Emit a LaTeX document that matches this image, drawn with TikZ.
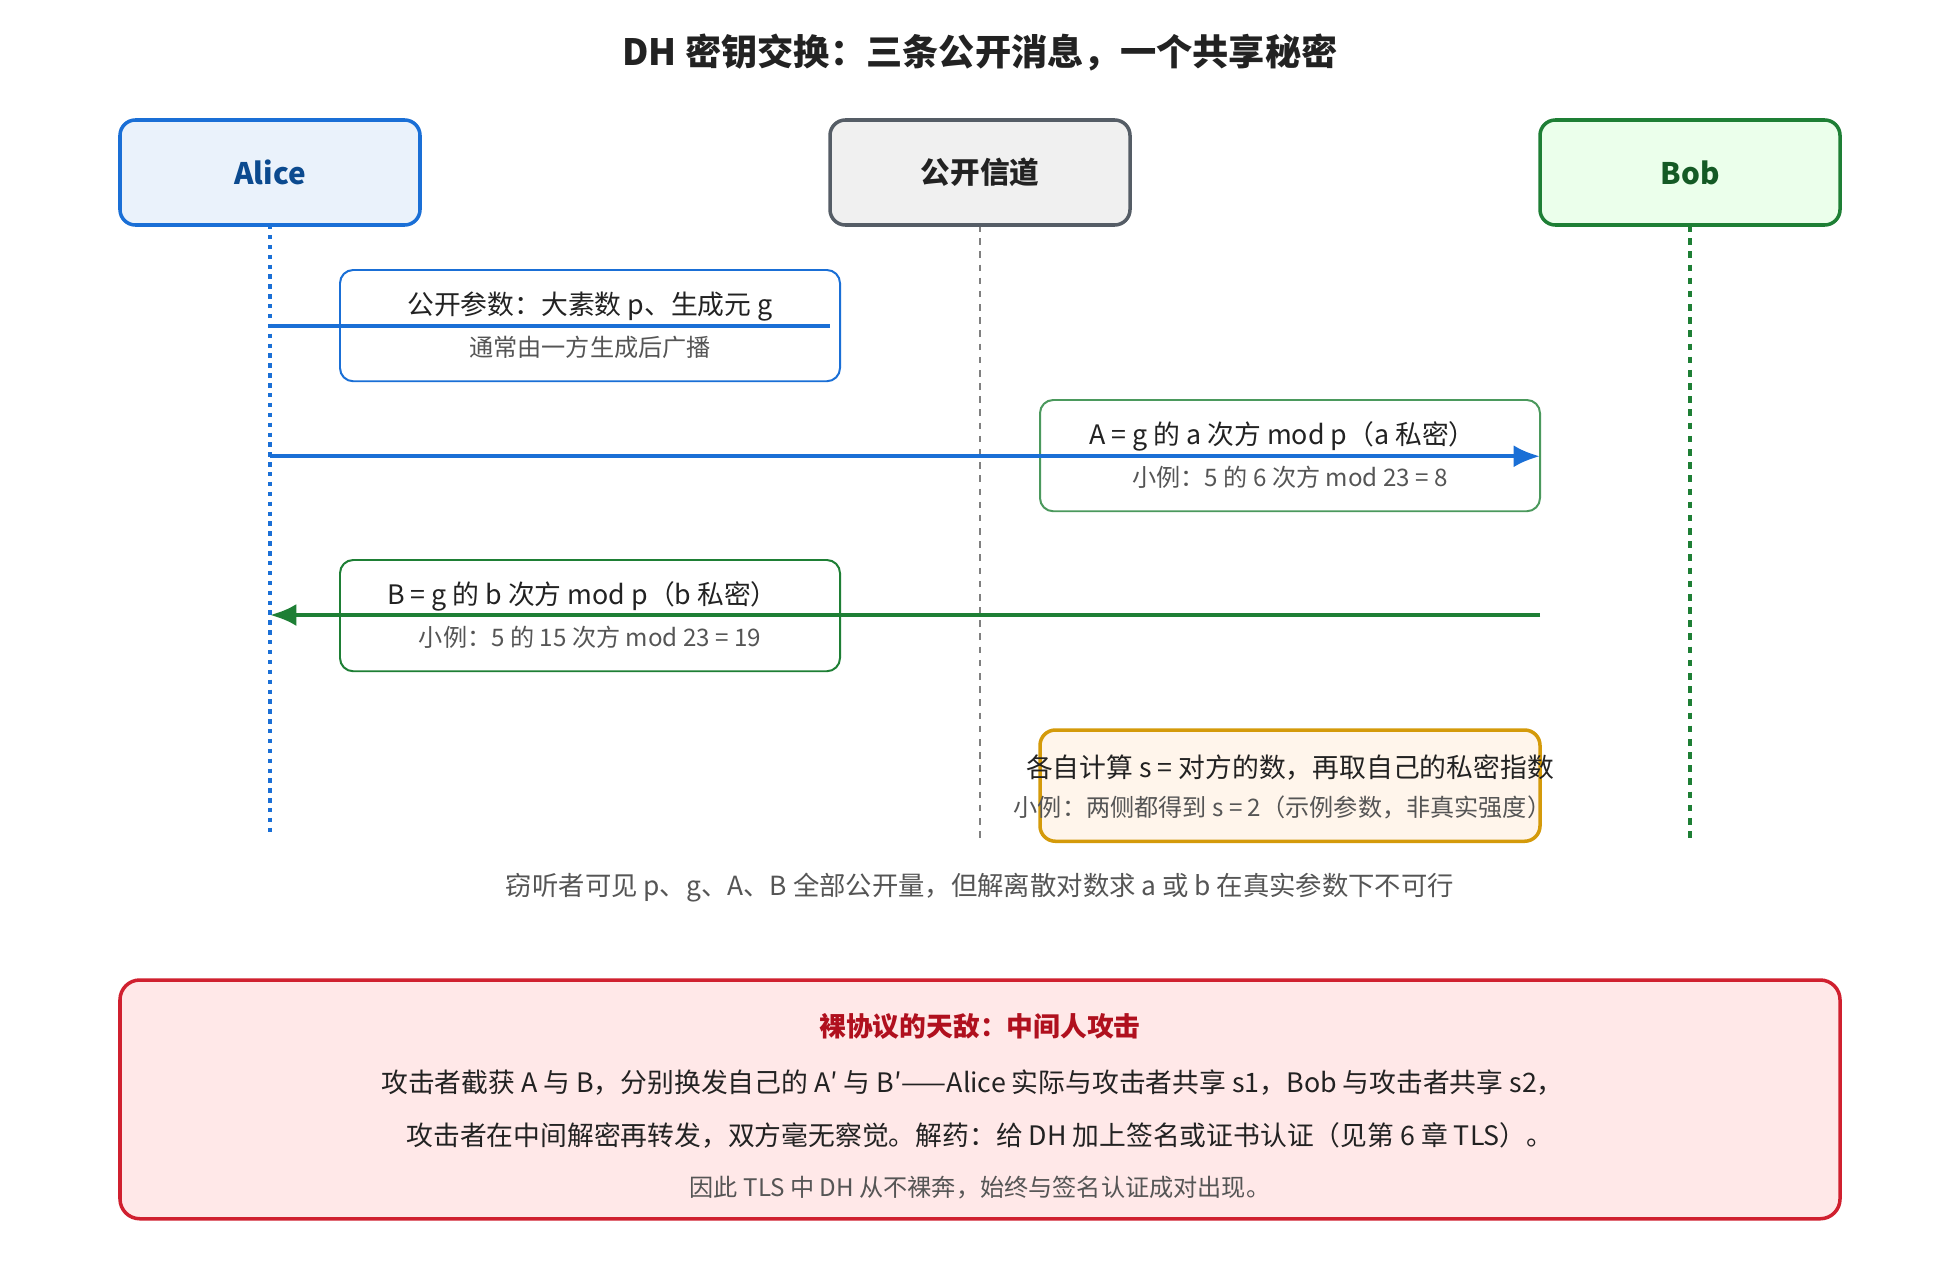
\documentclass[tikz,border=0pt]{standalone}
\usepackage{fontspec}
\setmainfont{Noto Sans CJK SC}
\usetikzlibrary{arrows.meta}
\definecolor{ablue}{HTML}{1A6FD6}
\definecolor{adark}{HTML}{0B4A8F}
\definecolor{bgreen}{HTML}{1E7F35}
\definecolor{bdark}{HTML}{145A25}
\definecolor{gborder}{HTML}{555D66}
\definecolor{obord}{HTML}{D49A0A}
\definecolor{rbord}{HTML}{D0202F}
\definecolor{rdark}{HTML}{B0101E}
\definecolor{txt}{HTML}{222222}
\definecolor{gtxt}{HTML}{555555}
\begin{document}
\begin{tikzpicture}[x=0.02cm,y=-0.02cm,
  actor/.style={line width=1.6pt,rounded corners=7pt},
  msg/.style={line width=0.9pt,rounded corners=6pt,fill=white},
  main/.style={font=\fontsize{12.2}{14}\selectfont,text=txt},
  sub/.style={font=\fontsize{11}{13}\selectfont,text=gtxt}]
\useasboundingbox[fill=white!97!blue!1] (0,0) rectangle (1568,1024);
\node[font=\fontsize{16.5}{18}\selectfont\bfseries,text=txt] (title) at (784,42) {DH 密钥交换：三条公开消息，一个共享秘密};
% lifelines
\coordinate (la) at (216,670); \coordinate (lc) at (784,670); \coordinate (lb) at (1352,670);
\draw[ablue,line width=1.6pt,dash pattern=on 2pt off 2.5pt] (216,180) -- (la);
\draw[gray,line width=1.3pt,dash pattern=on 3pt off 3pt] (784,180) -- (lc);
\draw[bgreen,line width=1.4pt,dash pattern=on 3pt off 3pt] (1352,180) -- (lb);
% actors
\draw[actor,draw=ablue,fill=ablue!9] (96,96) rectangle (336,180);
\node[font=\fontsize{13.5}{15}\selectfont\bfseries,text=adark] (alice) at (216,138) {Alice};
\draw[actor,draw=gborder,fill=gray!12] (664,96) rectangle (904,180);
\node[font=\fontsize{13.5}{15}\selectfont\bfseries,text=txt] (chan) at (784,138) {公开信道};
\draw[actor,draw=bgreen,fill=green!8] (1232,96) rectangle (1472,180);
\node[font=\fontsize{13.5}{15}\selectfont\bfseries,text=bdark] (bob) at (1352,138) {Bob};
% boxes
\draw[msg,draw=ablue] (272,216) rectangle (672,305);
\draw[msg,draw=bgreen!80] (832,320) rectangle (1232,409);
\draw[msg,draw=bgreen] (272,448) rectangle (672,537);
\draw[draw=obord,fill=orange!8,line width=1.6pt,rounded corners=7pt] (832,584) rectangle (1232,673);
% connectors
\coordinate (p1a) at (216,261); \coordinate (p1b) at (664,261);
\draw[ablue,line width=1.8pt] (p1a) -- (p1b);
\coordinate (p2a) at (216,365); \coordinate (p2b) at (1232,365);
\draw[ablue,line width=1.8pt,-{Latex[length=12pt,width=10pt]}] (p2a) -- (p2b);
\coordinate (p3a) at (1232,492); \coordinate (p3b) at (216,492);
\draw[bgreen,line width=1.8pt,-{Latex[length=12pt,width=10pt]}] (p3a) -- (p3b);
% texts
\node[main] (m1) at (472,245) {公开参数：大素数 p、生成元 g};
\node[sub] (m1s) at (472,278) {通常由一方生成后广播};
\node[main] (m2) at (1026,349) {A = g 的 a 次方 mod p（a 私密）};
\node[sub] (m2s) at (1032,382) {小例：5 的 6 次方 mod 23 = 8};
\node[main] (m3) at (466,477) {B = g 的 b 次方 mod p（b 私密）};
\node[sub] (m3s) at (472,510) {小例：5 的 15 次方 mod 23 = 19};
\node[main] (m4) at (1032,614) {各自计算 s = 对方的数，再取自己的私密指数};
\node[sub] (m4s) at (1026,646) {小例：两侧都得到 s = 2（示例参数，非真实强度）};
\node[font=\fontsize{12}{14}\selectfont,text=gtxt] (note) at (784,710) {窃听者可见 p、g、A、B 全部公开量，但解离散对数求 a 或 b 在真实参数下不可行};
% red box
\draw[draw=rbord,fill=red!9,line width=1.6pt,rounded corners=9pt] (96,784) rectangle (1472,975);
\node[font=\fontsize{12.2}{14}\selectfont\bfseries,text=rdark] (rt) at (784,821) {裸协议的天敌：中间人攻击};
\node[main] (r1) at (778,866) {攻击者截获 A 与 B，分别换发自己的 A′ 与 B′——Alice 实际与攻击者共享 s1，Bob 与攻击者共享 s2，};
\node[main] (r2) at (784,908) {攻击者在中间解密再转发，双方毫无察觉。解药：给 DH 加上签名或证书认证（见第 6 章 TLS）。};
\node[sub] (r3) at (784,950) {因此 TLS 中 DH 从不裸奔，始终与签名认证成对出现。};
\end{tikzpicture}
\end{document}
